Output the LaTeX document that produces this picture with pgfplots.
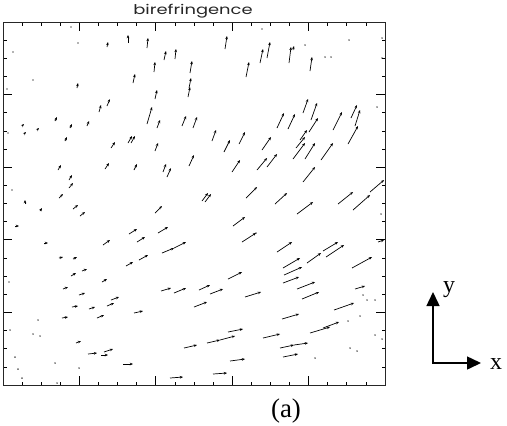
\documentclass[border=0pt]{standalone}
\usepackage{fontspec}
\setmainfont{Liberation Serif}
\newfontfamily\titlefont{Poppins}
\usepackage{pgfplots}
\pgfplotsset{compat=1.18}
\usetikzlibrary{arrows.meta}
\begin{document}
\begin{tikzpicture}[x=1bp,y=1bp]
\useasboundingbox (0,0) rectangle (507,-425);
\begin{axis}[
  at={(3bp,-385bp)}, anchor=south west,
  scale only axis, width=382bp, height=363bp,
  xmin=3, xmax=385, ymin=22, ymax=385, y dir=reverse,
  xtick={3,79.4,155.8,232.2,308.6,385},
  minor xtick={22.1,41.2,60.3,98.5,117.6,136.7,174.9,194,213.1,251.3,270.4,289.5,327.7,346.8,365.9},
  ytick={22,94.6,167.2,239.8,312.4,385},
  minor ytick={40.15,58.3,76.45,112.75,130.9,149.05,185.35,203.5,221.65,257.95,276.1,294.25,330.55,348.7,366.85},
  xticklabels={}, yticklabels={},
  tick align=inside, major tick length=9bp, minor tick length=3.5bp,
  tick style={black, line width=0.7pt},
  axis line style={black!85, line width=0.9pt},
]
\addplot[black, line width=0.7pt, -{Stealth[length=3.2bp,width=2.6bp]},
  quiver={u=\thisrow{u}, v=\thisrow{v}}] table {
x y u v
107 47 1 -5
128 43 0 -8
77 88 1 -5
99 112 2 -7
107 106 3 -7
55 121 2 -4
70 128 2 -4
87 126 2 -5
65 141 2 -4
111 148 4 -6
128 143 4 -7
131 143 4 -7
58 170 3 -5
105 169 4 -6
69 180 3 -5
69 188 4 -5
59 198 4 -4
25 204 0 -4
22 126 2 -2
24 134 2 -2
37 130 2 -2
147 48 1 -10
164 60 2 -9
175 59 1 -10
154 72 1 -10
190 73 2 -12
133 83 2 -9
189 88 2 -10
188 97 2 -10
155 99 2 -9
147 124 5 -17
157 128 3 -8
182 126 4 -10
193 128 4 -11
155 151 3 -8
212 141 4 -11
224 152 6 -12
239 144 6 -12
134 170 3 -6
163 172 3 -8
167 177 4 -9
189 166 5 -11
232 172 8 -12
202 201 6 -8
205 202 6 -8
246 198 11 -11
225 49 2 -13
246 77 3 -15
260 63 3 -14
267 58 3 -16
289 63 2 -16
293 50 1 -4
310 71 2 -14
303 113 5 -14
311 120 6 -17
277 128 7 -15
288 129 7 -15
333 130 9 -18
351 118 6 -13
355 126 5 -16
348 144 10 -18
300 140 7 -10
296 148 9 -11
293 159 12 -16
305 159 10 -16
309 132 9 -14
321 160 12 -17
262 150 9 -13
257 170 10 -12
267 167 10 -13
303 182 12 -15
275 204 12 -11
338 204 15 -12
353 210 17 -15
370 192 14 -12
40 211 2 -3
73 209 5 -4
80 216 5 -4
15 226 4 0
44 243 4 0
103 245 7 -5
59 258 4 -1
73 259 4 -2
126 266 7 -4
71 276 5 -3
82 271 5 -2
102 282 5 -3
63 289 5 -2
79 295 6 -2
72 307 6 -1
89 309 6 -2
107 306 7 -3
111 300 8 -3
62 318 6 -1
97 318 7 -3
76 343 5 -2
88 354 9 -1
101 355 7 0
104 352 9 -3
123 364 10 0
129 234 8 -5
137 242 8 -5
155 213 7 -7
233 226 12 -9
242 242 14 -9
158 233 10 -6
162 253 12 -5
174 248 12 -6
139 260 9 -5
161 291 10 -3
174 293 12 -5
199 290 11 -5
210 294 13 -5
228 279 14 -7
245 297 16 -5
134 313 9 -2
194 307 13 -5
184 348 13 -3
207 343 13 -3
220 340 15 -4
228 332 15 -3
230 361 15 -2
170 378 13 -1
213 374 14 -1
297 214 16 -12
277 252 15 -10
307 263 14 -10
323 251 15 -9
326 257 18 -12
352 268 20 -11
283 268 17 -10
284 275 18 -8
283 283 16 -6
297 289 18 -7
302 299 17 -7
355 289 10 -3
334 310 20 -7
282 319 17 -5
310 333 20 -6
323 328 16 -6
263 338 17 -4
280 348 14 -3
294 345 14 -2
283 357 15 -3
378 242 6 -2
};
\addplot[only marks, mark=*, mark size=0.45pt, black] coordinates {
(71,27) (78,43) (13,52) (33,80) (7,89) (8,133) (12,190) (262,29) (305,45)
(325,57) (331,57) (349,40) (382,38) (382,58) (377,107) (38,320) (10,330)
(33,334) (40,336) (15,357) (55,363) (79,368) (18,369) (22,378) (57,383)
(9,282) (363,295) (367,300) (375,300) (360,316) (348,321) (375,335)
(382,339) (350,348) (357,351) (315,358) (256,233) (381,214)
};
\end{axis}
\node[font=\titlefont\fontsize{13.5}{15}\selectfont, anchor=base, text=black!85] at (193,-14) {\scalebox{1.33}[1]{birefringence}};
\node[font=\fontsize{27}{30}\selectfont, anchor=base] at (286,-417) {(a)};
\draw[line width=1.5bp, -{Triangle[length=14bp,width=13bp]}] (433,-363) -- (433,-292);
\draw[line width=1.5bp, -{Triangle[length=14bp,width=13bp]}] (432.25,-363) -- (481,-363);
\node[font=\fontsize{24}{26}\selectfont, anchor=base] at (449,-292) {y};
\node[font=\fontsize{24}{26}\selectfont, anchor=base] at (496,-369) {x};
\end{tikzpicture}
\end{document}
